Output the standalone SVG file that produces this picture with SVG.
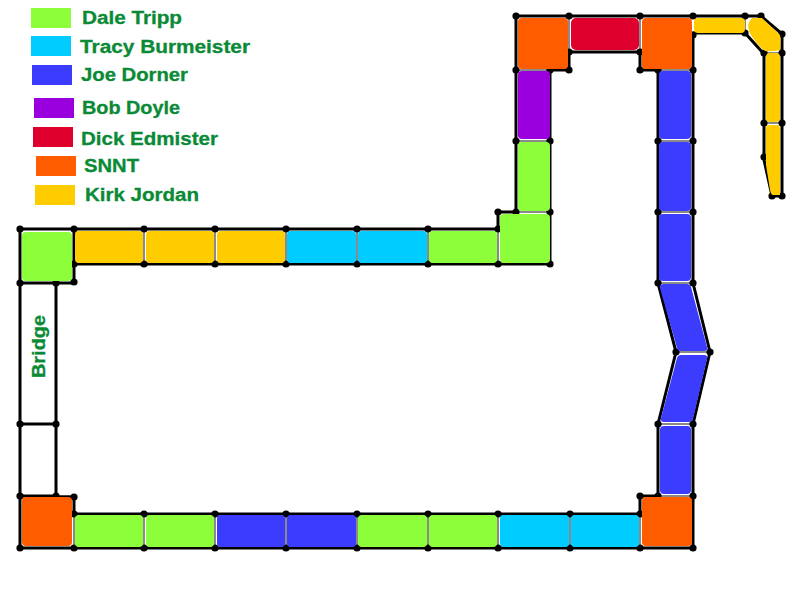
<svg xmlns="http://www.w3.org/2000/svg" width="799" height="590" viewBox="0 0 799 590">
<style>
.g{fill:#8cff3a}.c{fill:#00ccff}.b{fill:#3c3cff}.p{fill:#9900dd}.r{fill:#e0002e}.o{fill:#ff5c00}.y{fill:#ffcc00}
.t{font-family:"Liberation Sans",Arial,sans-serif;font-weight:bold;font-size:18px;fill:#0a8a35;stroke:#0a8a35;stroke-width:.3}
.w{fill:none;stroke:#000;stroke-width:3;stroke-linejoin:round}
.s{fill:none;stroke:#8a8a8a;stroke-width:2}
.d{fill:#000;stroke:none}
</style>
<defs><circle id="n" r="3.6" class="d"/></defs>
<rect width="799" height="590" fill="#fff"/>
<g id="legend">
<g id="legend-dale"><rect class="g" x="31" y="8" width="40" height="20"/><text class="t" x="82" y="24" textLength="100" lengthAdjust="spacingAndGlyphs">Dale Tripp</text></g>
<g id="legend-tracy"><rect class="c" x="31" y="36" width="40" height="20"/><text class="t" x="80" y="53" textLength="170" lengthAdjust="spacingAndGlyphs">Tracy Burmeister</text></g>
<g id="legend-joe"><rect class="b" x="32" y="65" width="40" height="20"/><text class="t" x="81" y="81" textLength="107" lengthAdjust="spacingAndGlyphs">Joe Dorner</text></g>
<g id="legend-bob"><rect class="p" x="34" y="98" width="40" height="20"/><text class="t" x="82" y="114" textLength="98" lengthAdjust="spacingAndGlyphs">Bob Doyle</text></g>
<g id="legend-dick"><rect class="r" x="33" y="127" width="40" height="20"/><text class="t" x="81" y="145" textLength="137" lengthAdjust="spacingAndGlyphs">Dick Edmister</text></g>
<g id="legend-snnt"><rect class="o" x="36" y="156" width="40" height="20"/><text class="t" x="84" y="172" textLength="55" lengthAdjust="spacingAndGlyphs">SNNT</text></g>
<g id="legend-kirk"><rect class="y" x="35" y="185" width="40" height="20"/><text class="t" x="85" y="201" textLength="114" lengthAdjust="spacingAndGlyphs">Kirk Jordan</text></g>
</g>
<g id="connectors">
<path class="s" d="M569 16V52M640 16V52M516 70H569M640 70H693M516 141H550M658 141H693M516 212H550M658 212H693M658 283H693M676 352H710M658 424H693M658 496H693M144 229V264M215 229V264M286 229V264M357 229V264M428 229V264M144 514V548M215 514V548M286 514V548M357 514V548M428 514V548M498 514V548M570 514V548M640 514V548M74 229V282M20 283H74M20 496H74M74 497V548M498 212V264M640 496V548M745 16V33M764 53H782M764 123H782"/>
<path class="w" d="M20 229H498V212H516V16H761L782 34V196H772L764 160V54L745 33H693V283L710 352L693 424V548H20V229M74 229V264H498M550 212V70H569V52H640V70H658V283L676 352L658 424V496H640V514H74V497H56V283H74V264M550 212V264H498M20 283H56M20 424H56M20 496H56"/>
<g id="dots">
<use href="#n" x="20" y="229"/><use href="#n" x="74" y="229"/><use href="#n" x="144" y="229"/><use href="#n" x="215" y="229"/><use href="#n" x="286" y="229"/><use href="#n" x="357" y="229"/><use href="#n" x="428" y="229"/><use href="#n" x="498" y="229"/><use href="#n" x="498" y="212"/><use href="#n" x="516" y="212"/><use href="#n" x="550" y="212"/><use href="#n" x="516" y="141"/><use href="#n" x="550" y="141"/><use href="#n" x="516" y="70"/><use href="#n" x="550" y="70"/><use href="#n" x="569" y="70"/><use href="#n" x="516" y="16"/><use href="#n" x="569" y="16"/><use href="#n" x="640" y="16"/><use href="#n" x="693" y="16"/><use href="#n" x="745" y="16"/><use href="#n" x="761" y="16"/><use href="#n" x="782" y="34"/><use href="#n" x="569" y="52"/><use href="#n" x="640" y="52"/><use href="#n" x="640" y="70"/><use href="#n" x="658" y="70"/><use href="#n" x="693" y="70"/><use href="#n" x="693" y="35"/><use href="#n" x="745" y="33"/><use href="#n" x="764" y="53"/><use href="#n" x="782" y="53"/><use href="#n" x="764" y="123"/><use href="#n" x="782" y="123"/><use href="#n" x="764" y="157"/><use href="#n" x="772" y="196"/><use href="#n" x="782" y="196"/>
<use href="#n" x="658" y="141"/><use href="#n" x="693" y="141"/><use href="#n" x="658" y="212"/><use href="#n" x="693" y="212"/><use href="#n" x="658" y="283"/><use href="#n" x="693" y="283"/><use href="#n" x="676" y="352"/><use href="#n" x="710" y="352"/><use href="#n" x="658" y="424"/><use href="#n" x="693" y="424"/><use href="#n" x="658" y="496"/><use href="#n" x="693" y="496"/><use href="#n" x="640" y="496"/><use href="#n" x="640" y="514"/><use href="#n" x="693" y="548"/><use href="#n" x="640" y="548"/><use href="#n" x="570" y="514"/><use href="#n" x="570" y="548"/><use href="#n" x="498" y="514"/><use href="#n" x="498" y="548"/><use href="#n" x="428" y="514"/><use href="#n" x="428" y="548"/><use href="#n" x="357" y="514"/><use href="#n" x="357" y="548"/><use href="#n" x="286" y="514"/><use href="#n" x="286" y="548"/><use href="#n" x="215" y="514"/><use href="#n" x="215" y="548"/><use href="#n" x="144" y="514"/><use href="#n" x="144" y="548"/><use href="#n" x="74" y="514"/><use href="#n" x="74" y="548"/><use href="#n" x="20" y="548"/><use href="#n" x="74" y="497"/><use href="#n" x="56" y="496"/><use href="#n" x="20" y="496"/><use href="#n" x="20" y="424"/><use href="#n" x="56" y="424"/><use href="#n" x="20" y="283"/><use href="#n" x="56" y="283"/><use href="#n" x="74" y="282"/><use href="#n" x="74" y="264"/><use href="#n" x="144" y="264"/><use href="#n" x="215" y="264"/><use href="#n" x="286" y="264"/><use href="#n" x="357" y="264"/><use href="#n" x="428" y="264"/><use href="#n" x="498" y="264"/><use href="#n" x="550" y="264"/>
</g>
</g>
<g id="booths">
<rect id="b1" class="o" x="518" y="18" width="50" height="51" rx="4"/>
<rect id="b2" class="r" x="571" y="18" width="68" height="32" rx="5"/>
<rect id="b3" class="o" x="642" y="18" width="50" height="51" rx="4"/>
<rect id="b4" class="y" x="694" y="18" width="51" height="15" rx="4"/>
<path id="b5" class="y" d="M752 18H762L780 35Q781 42 780 50Q772 52 765 51Q757 45 751 35Q745 25 752 18Z"/>
<rect id="b6" class="y" x="766" y="53" width="14" height="69" rx="4"/>
<path id="b7" class="y" d="M769 125H777Q780 125 780 129V195H773Q771 195 770 190L766 165V129Q766 125 769 125Z"/>
<rect id="b8" class="p" x="518" y="71" width="32" height="68" rx="4"/>
<rect id="b9" class="g" x="518" y="142" width="32" height="69" rx="4"/>
<rect id="b10" class="g" x="500" y="214" width="50" height="49" rx="4"/>
<rect id="b11" class="b" x="659" y="71" width="32" height="68" rx="4"/>
<rect id="b12" class="b" x="659" y="142" width="32" height="69" rx="4"/>
<rect id="b13" class="b" x="659" y="214" width="32" height="67" rx="4"/>
<path id="b14" class="b" d="M664 284H687Q690 284 691 287L707 347Q708 351 704 351H681Q678 351 677 348L660 288Q660 284 664 284Z"/>
<path id="b15" class="b" d="M681 355H704Q708 355 707 359L693 419Q692 422 689 422H664Q660 422 661 418L677 358Q678 355 681 355Z"/>
<rect id="b16" class="b" x="660" y="426" width="31" height="68" rx="4"/>
<rect id="b17" class="o" x="642" y="497" width="50" height="49" rx="4"/>
<rect id="b18" class="c" x="571" y="515" width="68" height="32" rx="4"/>
<rect id="b19" class="c" x="500" y="515" width="69" height="32" rx="4"/>
<rect id="b20" class="g" x="429" y="515" width="68" height="32" rx="4"/>
<rect id="b21" class="g" x="358" y="515" width="69" height="32" rx="4"/>
<rect id="b22" class="b" x="287" y="515" width="69" height="32" rx="4"/>
<rect id="b23" class="b" x="217" y="515" width="68" height="32" rx="4"/>
<rect id="b24" class="g" x="146" y="515" width="68" height="32" rx="4"/>
<rect id="b25" class="g" x="75" y="515" width="68" height="32" rx="4"/>
<rect id="b26" class="o" x="22" y="497" width="50" height="49" rx="4"/>
<rect id="b27" class="g" x="22" y="232" width="50" height="49" rx="4"/>
<rect id="b28" class="y" x="75" y="231" width="68" height="32" rx="4"/>
<rect id="b29" class="y" x="146" y="231" width="68" height="32" rx="4"/>
<rect id="b30" class="y" x="217" y="231" width="68" height="32" rx="4"/>
<rect id="b31" class="c" x="287" y="231" width="69" height="32" rx="4"/>
<rect id="b32" class="c" x="358" y="231" width="69" height="32" rx="4"/>
<rect id="b33" class="g" x="429" y="231" width="68" height="32" rx="4"/>
</g>
<g id="bridge"><text class="t" transform="translate(45 378) rotate(-90)" textLength="63" lengthAdjust="spacingAndGlyphs">Bridge</text></g>
</svg>
